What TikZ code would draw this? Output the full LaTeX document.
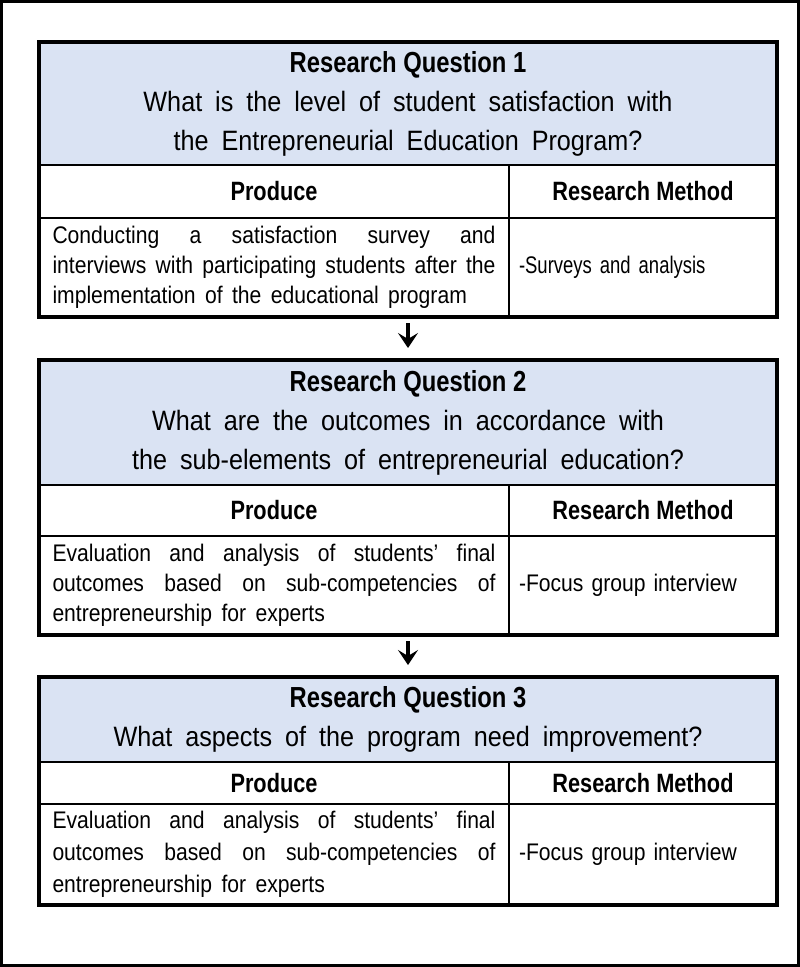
\documentclass[tikz,border=0pt]{standalone}
\usepackage{fontspec}
\setmainfont{Liberation Sans}[FakeStretch=0.88, WordSpace=1.6]
\newfontfamily\qfont{Liberation Sans}[FakeStretch=0.9, WordSpace=1.85]
\newfontfamily\hfont{Liberation Sans Bold}[FakeStretch=0.82]
\newfontfamily\nfont{Liberation Sans}[FakeStretch=0.77]
\usetikzlibrary{arrows.meta,positioning}
\definecolor{hdblue}{RGB}{218,227,243}
\hyphenpenalty=10000\relax

\begin{document}
\begin{tikzpicture}[x=1pt,y=-1pt,
hd/.style={fill=hdblue, draw=black, line width=1.5pt, outer sep=0pt, minimum width=738pt, inner sep=0pt, align=center, font=\qfont\fontsize{28}{39}\selectfont},
cl/.style={draw=black, line width=1.5pt, outer sep=0pt, inner sep=0pt, font=\hfont\fontsize{26.5}{30}\selectfont},
tx/.style={draw=black, line width=1.5pt, outer sep=0pt, inner sep=0pt, font=\fontsize{24}{30}\selectfont},
bx/.style={draw=black, line width=3.5pt},
ar/.style={-{Stealth[length=15pt,width=20pt,inset=6pt]}, line width=4pt, shorten <=6pt, shorten >=12pt},
]
\useasboundingbox (0,0) rectangle (800,967);
\draw[line width=3pt] (1.5,1.5) rectangle (798.5,965.5);

\node[hd, minimum height=123pt, anchor=north west] (q1) at (39,42) {{\hfont\fontsize{29}{39}\selectfont Research Question 1}\\What is the level of student satisfaction with\\the Entrepreneurial Education Program?};
\node[cl, minimum width=470pt, minimum height=53pt, anchor=north west] (p1) at (q1.south west) {Produce};
\node[cl, minimum width=268pt, minimum height=53pt, anchor=north west] (m1) at (p1.north east) {Research Method};
\node[tx, minimum width=470pt, minimum height=99pt, text width=443pt, align=justify, anchor=north west] (b1) at (p1.south west) {Conducting a satisfaction survey and\linebreak interviews with participating students after the\linebreak implementation of the educational program};
\node[tx, minimum width=268pt, minimum height=99pt, text width=248pt, align=left, anchor=north west] (r1) at (b1.north east) {\nfont -Surveys and analysis};
\draw[bx] (q1.north west) rectangle (r1.south east);

\node[hd, minimum height=125pt, anchor=north west] (q2) at (39,360) {{\hfont\fontsize{29}{39}\selectfont Research Question 2}\\What are the outcomes in accordance with\\the sub-elements of entrepreneurial education?};
\node[cl, minimum width=470pt, minimum height=51pt, anchor=north west] (p2) at (q2.south west) {Produce};
\node[cl, minimum width=268pt, minimum height=51pt, anchor=north west] (m2) at (p2.north east) {Research Method};
\node[tx, minimum width=470pt, minimum height=99pt, text width=443pt, align=justify, anchor=north west] (b2) at (p2.south west) {Evaluation and analysis of students{\char"27} final\linebreak outcomes based on sub-competencies of\linebreak entrepreneurship for experts};
\node[tx, minimum width=268pt, minimum height=99pt, text width=248pt, align=left, anchor=north west] (r2) at (b2.north east) {-Focus group interview};
\draw[bx] (q2.north west) rectangle (r2.south east);

\node[hd, minimum height=85pt, anchor=north west] (q3) at (39,677) {{\hfont\fontsize{29}{39}\selectfont Research Question 3}\\What aspects of the program need improvement?};
\node[cl, minimum width=470pt, minimum height=42pt, anchor=north west] (p3) at (q3.south west) {Produce};
\node[cl, minimum width=268pt, minimum height=42pt, anchor=north west] (m3) at (p3.north east) {Research Method};
\node[tx, minimum width=470pt, minimum height=101pt, text width=443pt, align=justify, anchor=north west, font=\fontsize{24}{32}\selectfont] (b3) at (p3.south west) {Evaluation and analysis of students{\char"27} final\linebreak outcomes based on sub-competencies of\linebreak entrepreneurship for experts};
\node[tx, minimum width=268pt, minimum height=101pt, text width=248pt, align=left, anchor=north west] (r3) at (b3.north east) {-Focus group interview};
\draw[bx] (q3.north west) rectangle (r3.south east);

\draw[ar] (b1.south -| q2.north) -- (q2.north);
\draw[ar] (b2.south -| q3.north) -- (q3.north);
\end{tikzpicture}
\end{document}
